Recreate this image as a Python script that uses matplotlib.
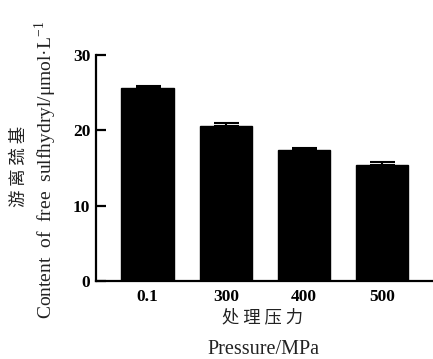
import matplotlib
matplotlib.use('Agg')
import matplotlib.pyplot as plt

pressure = ["0.1", "300", "400", "500"]
sulfhydryl = [25.6, 20.6, 17.4, 15.4]
sulfhydryl_err = [0.25, 0.4, 0.3, 0.35]

plt.rcParams['font.family'] = ['Liberation Serif', 'Noto Sans CJK SC']
plt.rcParams['mathtext.fontset'] = 'custom'
plt.rcParams['mathtext.rm'] = 'Liberation Serif'

fig = plt.figure(figsize=(4.33, 3.59), dpi=100)
ax = fig.add_axes([96/433, 1-281/359, 1-96/433, (281-55)/359])

x = range(len(pressure))
ax.bar(x, sulfhydryl, width=0.67, color='black', edgecolor='black')
ax.errorbar(x, sulfhydryl, yerr=[[0]*len(x), sulfhydryl_err], fmt='none',
            ecolor='black', elinewidth=1.5, capsize=9, capthick=1.5)

ax.set_xlim(-0.66, 3.65)
ax.set_ylim(0, 30)
ax.set_yticks([0, 10, 20, 30])
ax.set_xticks(list(x))
ax.set_xticklabels(pressure)
for s in ['top', 'right']:
    ax.spines[s].set_visible(False)
for s in ['left', 'bottom']:
    ax.spines[s].set_linewidth(1.6)
ax.tick_params(axis='y', direction='in', length=7.5, width=1.6, labelsize=12.5, pad=4)
ax.tick_params(axis='x', length=0, labelsize=12.5, pad=6)
for lab in ax.get_xticklabels() + ax.get_yticklabels():
    lab.set_fontweight('bold')

txt = '#222222'
fig.text(263/433, 1-317/359, '处 理 压 力', ha='center', va='center',
         fontsize=12.5, family=['Noto Sans CJK SC'], fontweight='light', color=txt)
fig.text(263/433, 1-350/359, 'Pressure/MPa', ha='center', va='center',
         fontsize=14.5, color=txt)
fig.text(19/433, 1-166/359, '游 离 巯 基', ha='center', va='center', rotation=90,
         fontsize=12.5, family=['Noto Sans CJK SC'], fontweight='light', color=txt)
fig.text(46/433, 1-170/359, 'Content  of  free  sulfhydryl/μmol·L$^{-1}$',
         ha='center', va='center', rotation=90, fontsize=14, color=txt)

fig.savefig('out.png', dpi=100)
